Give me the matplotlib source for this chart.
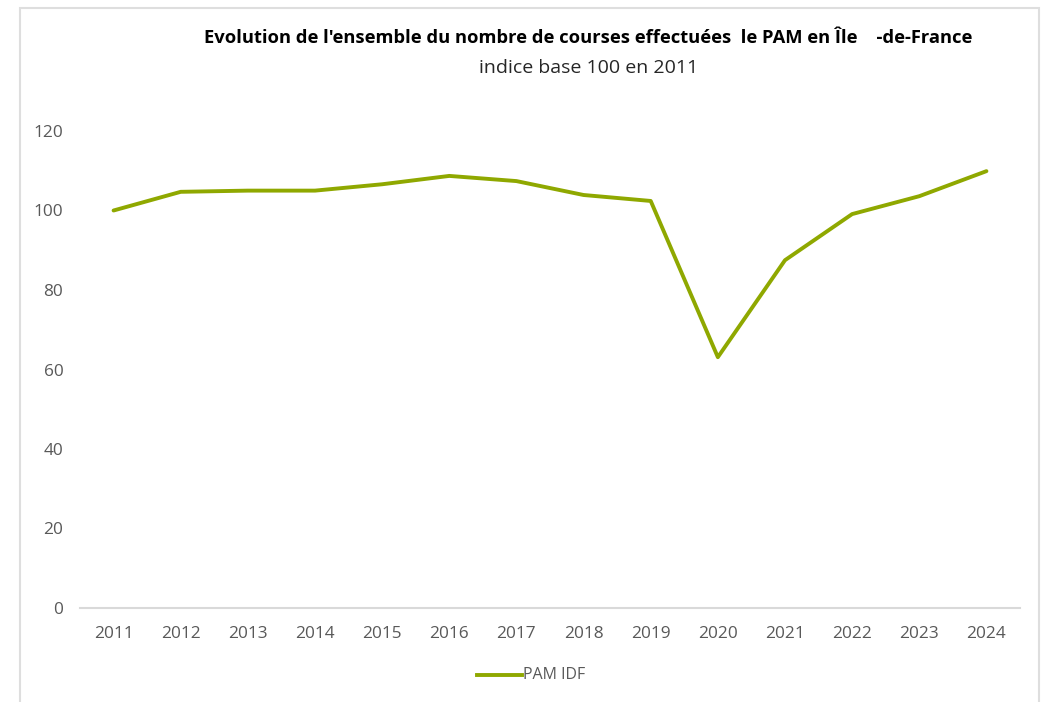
import matplotlib
matplotlib.use('Agg')
from matplotlib import pyplot as plt
from matplotlib.patches import Rectangle
from matplotlib.lines import Line2D

# Data.
years=['2011','2012','2013','2014','2015','2016','2017','2018','2019','2020',
       '2021','2022','2023','2024']
pam_idf=[100,104.7,105.0,105.0,106.6,108.7,107.4,103.9,102.4,63.1,
         87.5,99.1,103.6,109.9]
yticks=[0,20,40,60,80,100,120]

title_txt="Evolution de l'ensemble du nombre de courses effectuées  le PAM en Île    -de-France"
subtitle_txt='indice base 100 en 2011'
series_name='PAM IDF'

line_col='#8fa800'
tick_col='#595959'

fig=plt.figure(figsize=(10.43,7.02),dpi=100)
fig.patch.set_facecolor('white')
# Outer chart frame.
fig.patches.append(Rectangle((20/1043,-0.01),1019/1043,1-8/702+0.01,
  transform=fig.transFigure,fill=False,edgecolor='#dedede',linewidth=1.5))

ax=fig.add_axes([80/1043,(702-608)/702,940/1043,(608-131)/702*126/120])
x=list(range(len(years)))
ax.plot(x,pam_idf,color=line_col,linewidth=2.8,solid_joinstyle='round',
        solid_capstyle='round')
ax.set_xlim(-0.5,len(years)-0.5)
ax.set_ylim(0,126)
ax.set_xticks(x)
ax.set_xticklabels(years)
ax.set_yticks(yticks)
for s in ['top','right','left']:
  ax.spines[s].set_visible(False)
ax.spines['bottom'].set_color('#d9d9d9')
ax.spines['bottom'].set_linewidth(1.5)
ax.tick_params(length=0,labelsize=12.4,labelcolor=tick_col,pad=13)
ax.tick_params(axis='y',pad=12)
for lab in ax.get_xticklabels()+ax.get_yticklabels():
  lab.set_family('Open Sans')

# Titles.
fig.text(588/1043,1-38/702,title_txt,ha='center',va='center',
  fontsize=13.2,fontweight='bold',family='Open Sans',color='black')
fig.text(589/1043,1-68/702,subtitle_txt,ha='center',va='center',
  fontsize=14,family='Open Sans',color='#262626')

# Legend.
fig.lines.append(Line2D([477/1043,522/1043],[1-675/702,1-675/702],
  transform=fig.transFigure,color=line_col,linewidth=2.8))
fig.text(523/1043,1-675/702,series_name,ha='left',va='center',
  fontsize=11.5,family='Open Sans',color=tick_col)

fig.savefig('out.png',dpi=100)
